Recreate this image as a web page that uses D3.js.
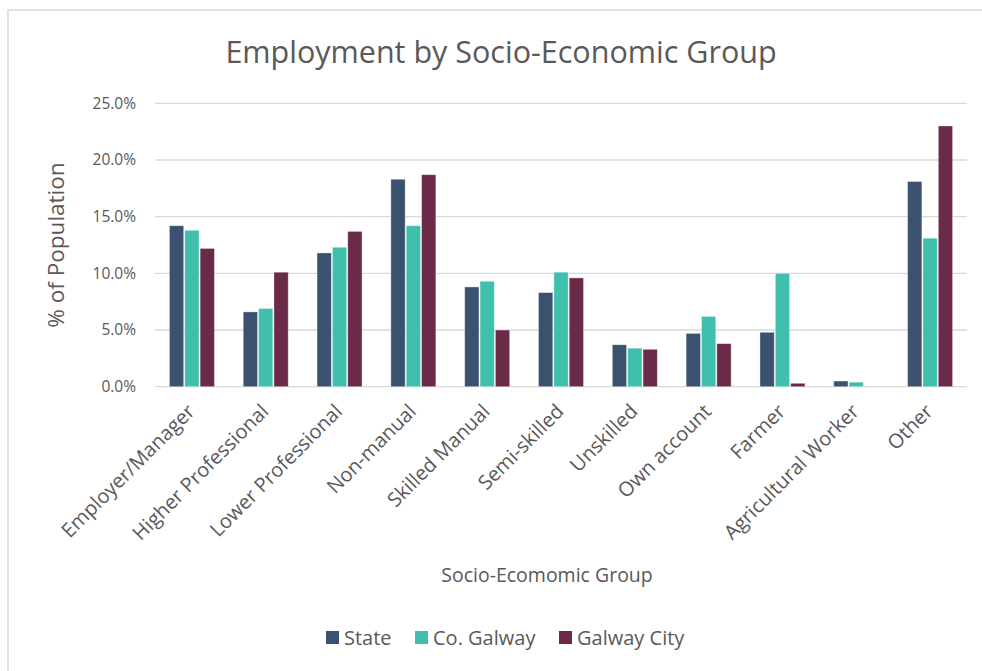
<!DOCTYPE html>
<html>
<head>
<meta charset="utf-8">
<script src="https://cdn.jsdelivr.net/npm/d3@7"></script>
<style>
  html, body { margin: 0; padding: 0; background: #fff; }
  text { font-family: "Open Sans", "Noto Sans", sans-serif; fill: #595959; }
</style>
</head>
<body>
<script>
// chart values
const categories = ['Employer/Manager', 'Higher Professional', 'Lower Professional', 'Non-manual',
  'Skilled Manual', 'Semi-skilled', 'Unskilled', 'Own account', 'Farmer', 'Agricultural Worker', 'Other']
const seriesNames = ['State', 'Co. Galway', 'Galway City']
const stateValues = [14.2, 6.6, 11.8, 18.3, 8.8, 8.3, 3.7, 4.7, 4.8, 0.5, 18.1]
const galwayCoValues = [13.8, 6.9, 12.3, 14.2, 9.3, 10.1, 3.4, 6.2, 10.0, 0.4, 13.1]
const galwayCityValues = [12.2, 10.1, 13.7, 18.7, 5.0, 9.6, 3.3, 3.8, 0.3, 0.0, 23.0]
const yTicks = [0, 5, 10, 15, 20, 25]
const colors = ['#3a5270', '#40bfad', '#6b2a47']

;(function () {
  const allSeries = [stateValues, galwayCoValues, galwayCityValues]

  const svg = d3.select('body').append('svg')
    .attr('width', 982)
    .attr('height', 671)

  // outer chart border
  svg.append('rect')
    .attr('x', 8).attr('y', 10)
    .attr('width', 1000).attr('height', 700)
    .attr('fill', 'none')
    .attr('stroke', '#d9d9d9')
    .attr('stroke-width', 1.5)

  const plotLeft = 155, plotRight = 967, plotTop = 103.3, plotBottom = 386.7

  const x = d3.scaleBand().domain(categories).range([plotLeft, plotRight])
  const xInner = d3.scaleBand().domain(seriesNames).range([0, 45]).paddingInner(0.07)
  const y = d3.scaleLinear().domain([0, 25]).range([plotBottom, plotTop])

  // gridlines
  svg.append('g')
    .selectAll('line')
    .data(yTicks)
    .join('line')
    .attr('x1', plotLeft).attr('x2', plotRight)
    .attr('y1', d => y(d)).attr('y2', d => y(d))
    .attr('stroke', '#d9d9d9')
    .attr('stroke-width', 1.3)

  // y tick labels
  svg.append('g')
    .selectAll('text')
    .data(yTicks)
    .join('text')
    .attr('x', 136)
    .attr('y', d => y(d))
    .attr('dy', '0.35em')
    .attr('text-anchor', 'end')
    .style('font-size', '15.5px')
    .text(d => d.toFixed(1) + '%')

  // bars
  const groups = svg.append('g')
    .selectAll('g')
    .data(categories)
    .join('g')
    .attr('transform', d => `translate(${x(d) + x.bandwidth() / 2 - 22.5},0)`)

  groups.selectAll('rect')
    .data((d, i) => seriesNames.map((s, j) => ({ s: s, v: allSeries[j][i], c: colors[j] })))
    .join('rect')
    .filter(d => d.v > 0)
    .attr('x', d => xInner(d.s))
    .attr('width', xInner.bandwidth())
    .attr('y', d => y(d.v))
    .attr('height', d => plotBottom - y(d.v))
    .attr('fill', d => d.c)
    .attr('stroke', '#ffffff')
    .attr('stroke-opacity', 0.45)
    .attr('stroke-width', 0.8)

  // category labels
  svg.append('g')
    .selectAll('text')
    .data(categories)
    .join('text')
    .attr('text-anchor', 'end')
    .attr('transform', d => `translate(${x(d) + x.bandwidth() / 2 + 4},${plotBottom + 26}) rotate(-45)`)
    .style('font-size', '20px')
    .text(d => d)

  // titles
  svg.append('text')
    .attr('x', 501).attr('y', 63)
    .attr('text-anchor', 'middle')
    .style('font-size', '30.5px')
    .text('Employment by Socio-Economic Group')

  svg.append('text')
    .attr('transform', 'translate(64,245) rotate(-90)')
    .attr('text-anchor', 'middle')
    .style('font-size', '22.5px')
    .text('% of Population')

  svg.append('text')
    .attr('x', 547).attr('y', 582)
    .attr('text-anchor', 'middle')
    .style('font-size', '19.5px')
    .text('Socio-Ecomomic Group')

  // legend
  const legendX = [326, 415, 559]
  const legend = svg.append('g')
    .selectAll('g')
    .data(seriesNames)
    .join('g')
    .attr('transform', (d, i) => `translate(${legendX[i]},631)`)

  legend.append('rect')
    .attr('width', 13).attr('height', 13)
    .attr('fill', (d, i) => colors[i])

  legend.append('text')
    .attr('x', 18).attr('y', 7)
    .attr('dy', '0.35em')
    .style('font-size', '20px')
    .text(d => d)
})()
</script>
</body>
</html>
